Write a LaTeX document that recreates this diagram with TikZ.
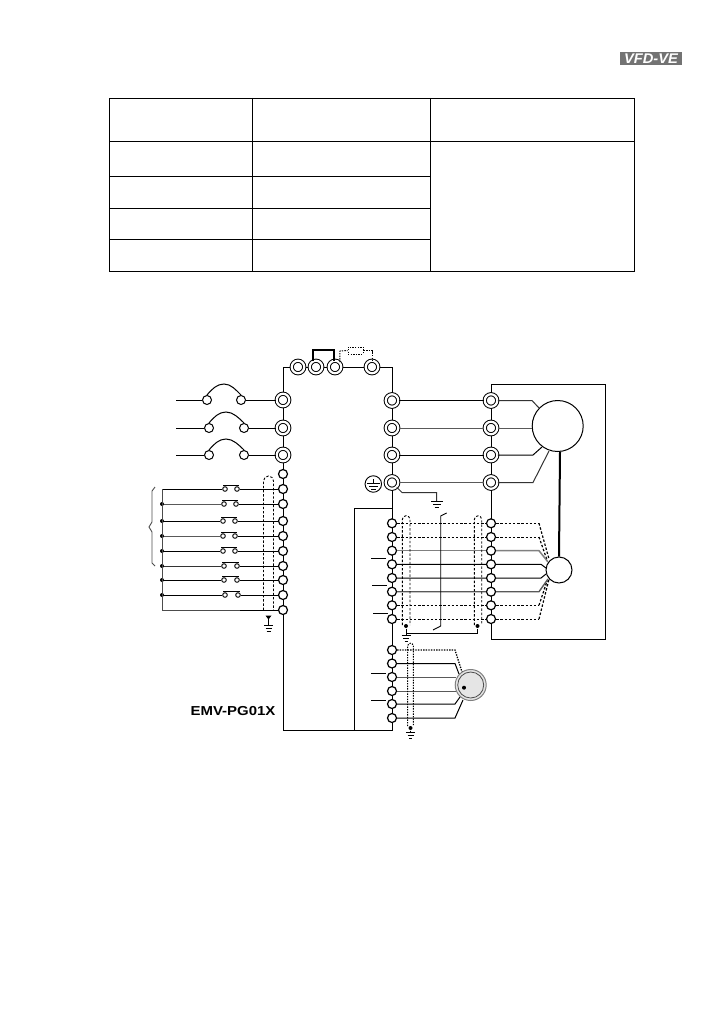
\documentclass[tikz,border=0pt]{standalone}
\usepackage{fontspec}
\setsansfont{Liberation Sans}

\begin{document}
\begin{tikzpicture}
[x=1pt,y=-1pt,line width=1pt]
\tikzset{
	bigterm/.style = {circle, draw, fill=white, double=white, double distance=2.2pt, line width=1pt, minimum size=12.5pt, inner sep=0},
	smallterm/.style = {circle, draw, fill=white, line width=1.2pt, minimum size=9pt, inner sep=0},
	tinyterm/.style = {circle, draw, fill=white, line width=0.9pt, minimum size=4.6pt, inner sep=0},
	switchend/.style = {circle, draw, fill=white, line width=1pt, minimum size=9pt, inner sep=0},
	busdot/.style = {circle, fill=black, minimum size=4pt, inner sep=0},
	shieldline/.style = {dash pattern=on 2.4pt off 1.8pt, line width=0.9pt},
	dotline/.style = {dash pattern=on 1.4pt off 1.2pt, line width=1.3pt},
	gridline/.style = {line width=0.9pt},
	earthbar/.style = {line width=0.8pt}
}
\useasboundingbox (0,0) rectangle (726,1032);

% table
\draw [gridline] (109,98) rectangle (634,271);
\foreach \x in {252,430}
	\draw [gridline] (\x,98) -- (\x,271);
\draw [gridline] (109,141) -- (634,141);
\foreach \y in {176,208,239}
	\draw [gridline] (109,\y) -- (430,\y);

% logo
\fill [black!55] (620,52) rectangle (682,65);
\node (logo) at (651,58.5) [font=\sffamily\bfseries\itshape\fontsize{14}{14}\selectfont, text=white, inner sep=0]{\scalebox{1.05}[1]{VFD-VE}};

% drive outline
\coordinate (boxTL) at (283,367);
\coordinate (boxTR) at (392,367);
\coordinate (boxBL) at (283,730);
\coordinate (boxBR) at (392,730);
\coordinate (innerT) at (354,508);
\coordinate (innerM) at (392,508);
\coordinate (innerB) at (354,730);
\draw (boxTL) -- (boxBL) -- (boxBR) -- (boxTR) -- cycle;
\draw (innerM) -- (innerT) -- (innerB);

% motor frame
\coordinate (frameTL) at (491,384);
\coordinate (frameBR) at (605,639);
\draw (frameTL) -| (frameBR) -| cycle;

% top terminals
\foreach \n/\x in {1/298,2/316,3/335,4/372}
	\node (T\n) at (\x,367) [bigterm]{};
\coordinate (jmpL) at (313,350);
\coordinate (jmpR) at (334,350);
\draw [line width=1.7pt] (313,361) -- (jmpL) -- (jmpR) -- (334,361);
\node (dbr) at (355.5,350.5) [draw, dotline, line width=1pt, minimum width=15pt, minimum height=7pt, inner sep=0]{};
\draw [dotline, line width=1pt] (T3.north east) -- (340,351) -- (dbr.west);
\draw [dotline, line width=1pt] (dbr.east) -| (T4.north);

% mains input
\foreach \n/\y/\a/\b/\h in {1/400/207/241/384,2/428/209/244/412,3/455/209/244/439}{
	\node (R\n) at (283,\y) [bigterm]{};
	\node (Qa\n) at (\a,\y) [switchend]{};
	\node (Qb\n) at (\b,\y) [switchend]{};
	\coordinate (In\n) at (176,\y);
	\draw (In\n) -- (Qa\n);
	\draw (Qb\n) -- (R\n);
	\draw (Qa\n.north) .. controls (\a+5,\y-11) and (\a+10,\h) .. (\a+17,\h) .. controls (\a+24,\h) and (\b-5,\y-10) .. (Qb\n.north);
}

% digital inputs
\node (Lfree) at (283,474) [smallterm]{};
\foreach \n/\y/\a/\b/\c in {1/489/225/237/black,2/504/224/236/black!65,3/521/223/235/black,4/536/223/235/black!65,5/551/223/235/black,6/566/224/237/black!80,7/580/224/237/black,8/595/225/238/black}{
	\node (L\n) at (283,\y) [smallterm]{};
	\node (Sa\n) at (\a,\y) [tinyterm]{};
	\node (Sb\n) at (\b,\y) [tinyterm]{};
	\coordinate (Bus\n) at (162,\y);
	\draw [draw=\c] (Bus\n) -- (Sa\n);
	\draw (Sb\n) -- (L\n);
	\draw (\a-2,\y-3.5) -- (\b+2,\y-3.5);
	\ifnum\n>1 \node (Dot\n) at (Bus\n) [busdot]{}; \fi
}
\node (Lcom) at (283,610) [smallterm]{};
\coordinate (busB) at (162,610);
\draw [black!70] (Bus1) -- (busB) -- (240,610);
\draw (240,610) -- (Lcom);

% brace of the inputs
\draw [black!70, line width=0.9pt] (155,487) -- (152,491) -- (152,522) -- (149,527) -- (152,532) -- (152,563) -- (155,566);

% shield of the inputs
\draw [shieldline] (263.5,610) -- (263.5,481) arc (180:360:5) -- (273.5,610);
\coordinate (gndL) at (268.5,616);
\fill (265.5,615.5) -- (271.5,615.5) -- (268.5,619.5) -- cycle;
\draw [earthbar] (gndL) -- (268.5,625);
\draw [earthbar] (264,625) -- (273,625) (265.5,628) -- (271.5,628) (266.5,631) -- (270.5,631);

% output terminals and motor
\node (Mot) at (557.7,426) [circle, draw, fill=white, minimum size=51pt, inner sep=0]{};
\node (Enc) at (559,570) [circle, draw, fill=white, minimum size=26pt, inner sep=0]{};
\draw [line width=2pt] (560,452) -- (Enc.north);
\foreach \n/\y in {1/400.5,2/428,3/455,4/482.5}{
	\node (U\n) at (392,\y) [bigterm]{};
	\node (W\n) at (491,\y) [bigterm]{};
}
\draw (U1) -- (W1);
\draw [black!65] (U2) -- (W2);
\draw (U3) -- (W3);
\draw [black!65] (U4) -- (W4);
\coordinate (MotB) at (532,428);
\draw [black!80] (W1) -- (532,400.5) -- (539,408);
\draw [black!65] (W2) -- (MotB);
\draw (W3) -- (533,455) -- (542,447);
\draw [black!80] (W4) -- (533,482.5) -- (549,451);

% earth
\node (Gnd) at (373.3,484) [circle, draw, fill=white, minimum size=16.5pt, line width=0.9pt, inner sep=0]{};
\draw [earthbar] (373.3,479) -- (373.3,483) (367,483) -- (379.6,483) (369,486) -- (377.6,486) (371,489) -- (375.6,489);
\coordinate (gndU) at (436.7,501.5);
\draw [black!80] (U4.south east) -- (402,492.5) -| (gndU);
\draw [earthbar] (431,501.5) -- (442.5,501.5) (433,504.5) -- (440.5,504.5) (434.5,507.5) -- (439,507.5);

% feedback rows
\foreach \n/\y in {1/523.3,2/537,3/550.7,4/564.3,5/578,6/591.7,7/605.3,8/619}{
	\node (F\n) at (392,\y) [smallterm]{};
	\node (G\n) at (491,\y) [smallterm]{};
	\coordinate (K\n) at (539,\y);
}
\foreach \n in {1,2,7,8}{
	\draw [shieldline] (F\n) -- (G\n);
	\draw [shieldline] (G\n) -- (K\n);
}
\draw [shieldline, line width=1.2pt] (K1) -- (549,559) (K2) -- (547,560) (K7) -- (547,581) (K8) -- (549,579);
\draw [black!50, line width=1.5pt] (F3) -- (G3);
\draw [black!50, line width=1.5pt] (G3) -- (K3) -- (548,562);
\draw (F4) -- (G4) -- (541,564.3) -- (546,568);
\draw (F5) -- (G5) -- (541,578) -- (546,574);
\draw [black!65, line width=1.4pt] (F6) -- (G6) -- (K6) -- (548,579);

% shields of the feedback cable
\foreach \xa/\xb in {402.3/410,474.3/481.7}
	\draw [shieldline] (\xa,625) -- (\xa,519.5) arc (180:360:{(\xb-\xa)/2}) -- (\xb,625);
\node (dotA) at (406,626) [busdot]{};
\node (dotB) at (477.5,626) [busdot]{};
\coordinate (gndF) at (406,633);
\draw [line width=1pt] (dotA) -- (gndF) -| (dotB);
\draw [earthbar] (gndF) -- (406,635) (401.5,635) -- (410.5,635) (403,638) -- (409,638) (404.5,641) -- (407.5,641);
\draw [line width=0.9pt] (446.7,513) -- (440.7,516) -- (440.7,626) -- (433,630);

% stubs beside the terminals
\foreach \n/\xa/\y in {1/371/558,2/372/585,3/373/613,4/371/673,5/371/700}{
	\coordinate (StubA\n) at (\xa,\y);
	\coordinate (StubB\n) at (\xa+15,\y);
	\draw (StubA\n) -- (StubB\n);
}

% pg output and encoder
\node (PG) at (470.7,685) [circle, draw=black!50, fill=black!10, minimum size=31pt, line width=1pt, inner sep=0]{};
\node (PGin) at (470.7,685) [circle, draw=black!70, fill=black!10, minimum size=26pt, line width=0.8pt, inner sep=0]{};
\node (PGdot) at (464,687.7) [busdot]{};
\foreach \n/\y in {1/650,2/663.5,3/677,4/691,5/704,6/718}{
	\node (P\n) at (392,\y) [smallterm]{};
	\coordinate (PK\n) at (455,\y);
}
\draw [dotline] (P1) -- (PK1) -- (462,672);
\draw (P2) -- (PK2) -- (459,674);
\draw [black!65] (P3) -- (456,677);
\draw [black!65] (P4) -- (456,691);
\draw (P5) -- (PK5) -- (460,697);
\draw (P6) -- (PK6) -- (463,700);
\draw [dotline, line width=1pt] (407.7,726) -- (407.7,646) arc (180:360:2.8) -- (413.3,726);
\node (dotP) at (410.5,728) [busdot]{};
\draw [earthbar] (dotP) -- (410.5,732) (406,732) -- (415,732) (407.5,735) -- (413.5,735) (409,738) -- (412,738);

\node (pgname) at (233,711.5) [font=\sffamily\bfseries\fontsize{13}{13}\selectfont, inner sep=0]{\scalebox{1.15}[1]{EMV-PG01X}};
\end{tikzpicture}
\end{document}
